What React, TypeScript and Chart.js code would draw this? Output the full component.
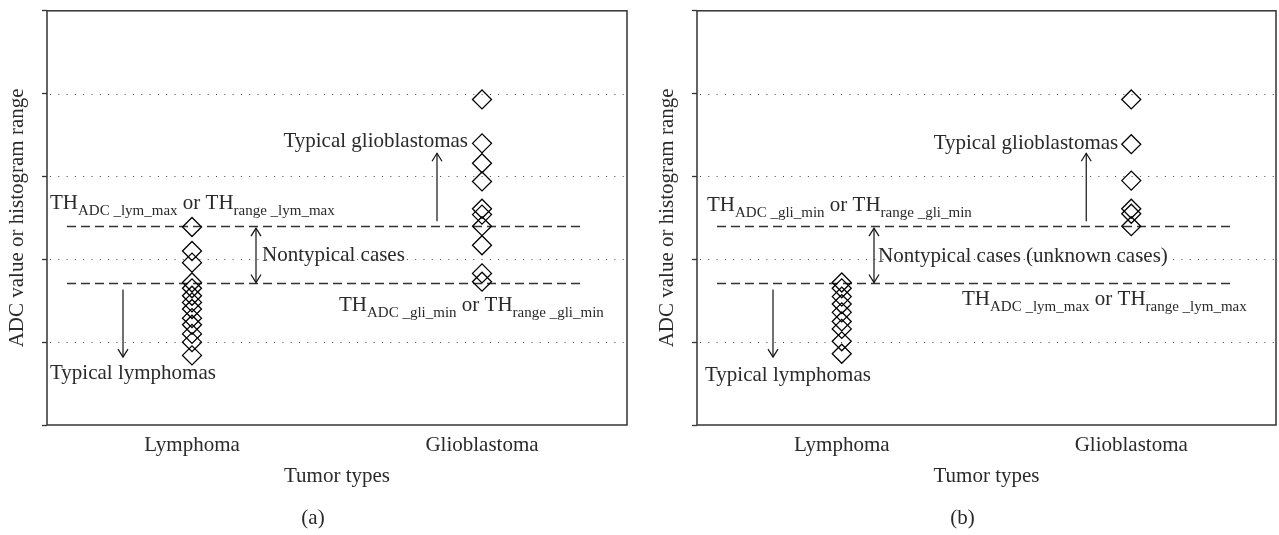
import React, { useEffect, useRef } from 'react';
import { Chart, registerables } from 'chart.js';

Chart.register(...registerables);

// ---- data -------------------------------------------------------------
const categories = ['Lymphoma', 'Glioblastoma'];
const yMin = 0;
const yMax = 5;

// panel (a): ADC value / histogram range per case
const lymphomaA = [2.39, 2.1, 1.96, 1.72, 1.65, 1.56, 1.48, 1.4, 1.29, 1.21, 1.1, 1.0, 0.84];
const glioblastomaA = [3.93, 3.4, 3.16, 2.94, 2.61, 2.54, 2.4, 2.17, 1.83, 1.73];

// panel (b)
const lymphomaB = [1.72, 1.65, 1.55, 1.46, 1.36, 1.25, 1.16, 1.01, 0.86];
const glioblastomaB = [3.93, 3.39, 2.95, 2.61, 2.55, 2.4];

// threshold levels (upper / lower dashed lines)
const thresholdUpper = 2.4;
const thresholdLower = 1.72;

// arrow end values
const upArrowFrom = 2.46;
const upArrowTo = 3.28;
const downArrowFrom = 1.635;
const downArrowTo = 0.82;

// ---- styling ----------------------------------------------------------
const FONT = "'Liberation Serif', 'Times New Roman', serif";
const TEXT = '#2a2a2a';
const MAIN_PX = 21;
const SUB_PX = 15;

type Run = { t: string; sub?: boolean };

const lymMaxRuns: Run[] = [
  { t: 'TH' },
  { t: 'ADC _lym_max', sub: true },
  { t: ' or TH' },
  { t: 'range _lym_max', sub: true },
];
const gliMinRuns: Run[] = [
  { t: 'TH' },
  { t: 'ADC _gli_min', sub: true },
  { t: ' or TH' },
  { t: 'range _gli_min', sub: true },
];

type PanelSpec = {
  lymphoma: number[];
  glioblastoma: number[];
  upperRuns: Run[];
  upperX: number;
  upperDy: number;
  lowerRuns: Run[];
  lowerX: number;
  lowerDy: number;
  glioTextDx: number;
  glioTextDy: number;
  nontypical: string;
  doubleArrowX: number;
  nontypicalDx: number;
  nontypicalY: number;
  lymTextX: number;
  lymTextDy: number;
  caption: string;
};

const panelA: PanelSpec = {
  lymphoma: lymphomaA,
  glioblastoma: glioblastomaA,
  upperRuns: lymMaxRuns,
  upperX: 3,
  upperDy: -17,
  lowerRuns: gliMinRuns,
  lowerX: 292,
  lowerDy: 28,
  glioTextDx: -14,
  glioTextDy: -6,
  nontypical: 'Nontypical cases',
  doubleArrowX: 209,
  nontypicalDx: 6,
  nontypicalY: -22,
  lymTextX: 3,
  lymTextDy: 22,
  caption: '(a)',
};

const panelB: PanelSpec = {
  lymphoma: lymphomaB,
  glioblastoma: glioblastomaB,
  upperRuns: gliMinRuns,
  upperX: 10,
  upperDy: -15,
  lowerRuns: lymMaxRuns,
  lowerX: 265,
  lowerDy: 22,
  glioTextDx: -13,
  glioTextDy: -4,
  nontypical: 'Nontypical cases (unknown cases)',
  doubleArrowX: 177,
  nontypicalDx: 4,
  nontypicalY: -21,
  lymTextX: 8,
  lymTextDy: 24,
  caption: '(b)',
};

function drawRuns(ctx: CanvasRenderingContext2D, runs: Run[], x: number, baseline: number) {
  let cx = x;
  ctx.textBaseline = 'alphabetic';
  ctx.textAlign = 'left';
  for (const r of runs) {
    ctx.font = `${r.sub ? SUB_PX : MAIN_PX}px ${FONT}`;
    ctx.fillText(r.t, cx, r.sub ? baseline + 6 : baseline);
    cx += ctx.measureText(r.t).width;
  }
}

function arrowHead(ctx: CanvasRenderingContext2D, x: number, tipY: number, dir: number) {
  // dir = -1 points up, +1 points down
  ctx.beginPath();
  ctx.moveTo(x - 5, tipY - dir * 8);
  ctx.lineTo(x, tipY);
  ctx.lineTo(x + 5, tipY - dir * 8);
  ctx.stroke();
}

function vArrow(ctx: CanvasRenderingContext2D, x: number, y1: number, y2: number, both = false) {
  ctx.beginPath();
  ctx.moveTo(x, y1);
  ctx.lineTo(x, y2);
  ctx.stroke();
  const dir = y2 > y1 ? 1 : -1;
  arrowHead(ctx, x, y2, dir);
  if (both) arrowHead(ctx, x, y1, -dir);
}

function annotationPlugin(spec: PanelSpec) {
  return {
    id: 'panelAnnotations',
    beforeDatasetsDraw(chart: any) {
      const { ctx, chartArea: a, scales } = chart;
      const y = scales.y;
      ctx.save();
      // dotted reference lines at interior ticks
      ctx.strokeStyle = '#444';
      ctx.lineWidth = 1;
      ctx.setLineDash([1, 7.3]);
      for (const t of y.ticks) {
        if (t.value <= yMin || t.value >= yMax) continue;
        const py = Math.round(y.getPixelForValue(t.value)) + 0.5;
        ctx.beginPath();
        ctx.moveTo(a.left + 3, py);
        ctx.lineTo(a.right, py);
        ctx.stroke();
      }
      // threshold lines
      ctx.strokeStyle = '#333';
      ctx.lineWidth = 1.3;
      ctx.setLineDash([9, 5]);
      for (const v of [thresholdUpper, thresholdLower]) {
        const py = Math.round(y.getPixelForValue(v)) + 0.5;
        ctx.beginPath();
        ctx.moveTo(a.left + 20, py);
        ctx.lineTo(a.right - 42, py);
        ctx.stroke();
      }
      ctx.restore();
    },
    afterDraw(chart: any) {
      const { ctx, chartArea: a, scales } = chart;
      const y = scales.y;
      const x = scales.x;
      const yUp = y.getPixelForValue(thresholdUpper);
      const yLo = y.getPixelForValue(thresholdLower);
      const glioX = x.getPixelForValue(1);
      ctx.save();
      // frame
      ctx.strokeStyle = '#333';
      ctx.lineWidth = 1.5;
      ctx.strokeRect(a.left, a.top, a.right - a.left, a.bottom - a.top);

      // arrows
      ctx.strokeStyle = '#111';
      ctx.lineWidth = 1.2;
      const upX = glioX - 45;
      const upTip = y.getPixelForValue(upArrowTo);
      vArrow(ctx, upX, y.getPixelForValue(upArrowFrom), upTip);
      const downX = a.left + 76;
      const downTip = y.getPixelForValue(downArrowTo);
      vArrow(ctx, downX, y.getPixelForValue(downArrowFrom), downTip);
      const dblX = a.left + spec.doubleArrowX;
      vArrow(ctx, dblX, yUp + 2, yLo, true);

      // texts
      ctx.fillStyle = TEXT;
      drawRuns(ctx, spec.upperRuns, a.left + spec.upperX, yUp + spec.upperDy);
      drawRuns(ctx, spec.lowerRuns, a.left + spec.lowerX, yLo + spec.lowerDy);

      ctx.font = `${MAIN_PX}px ${FONT}`;
      ctx.textBaseline = 'alphabetic';
      ctx.textAlign = 'right';
      ctx.fillText('Typical glioblastomas', glioX + spec.glioTextDx, upTip + spec.glioTextDy);
      ctx.textAlign = 'left';
      ctx.fillText(spec.nontypical, dblX + spec.nontypicalDx, yLo + spec.nontypicalY);
      ctx.fillText('Typical lymphomas', a.left + spec.lymTextX, downTip + spec.lymTextDy);

      // panel caption
      ctx.textAlign = 'center';
      ctx.textBaseline = 'middle';
      ctx.fillText(spec.caption, (a.left + a.right) / 2 - 24, 518);
      ctx.restore();
    },
  };
}

function Panel({ spec, left, width, padRight }: { spec: PanelSpec; left: number; width: number; padRight: number }) {
  const ref = useRef<HTMLCanvasElement | null>(null);

  useEffect(() => {
    if (!ref.current) return;
    const point = {
      showLine: false,
      pointStyle: 'rectRot',
      pointRadius: 9.5,
      pointHoverRadius: 9.5,
      pointBorderWidth: 1.3,
      pointBorderColor: '#000',
      pointBackgroundColor: 'rgba(0,0,0,0)',
      borderColor: '#000',
      backgroundColor: 'rgba(0,0,0,0)',
    };
    const chart = new Chart(ref.current, {
      type: 'line',
      data: {
        labels: categories,
        datasets: [
          { ...point, data: spec.lymphoma.map((v) => ({ x: categories[0], y: v })) },
          { ...point, data: spec.glioblastoma.map((v) => ({ x: categories[1], y: v })) },
        ],
      },
      options: {
        animation: false,
        responsive: false,
        events: [],
        layout: { padding: { left: 0, right: padRight, top: 6, bottom: 0 } },
        plugins: { legend: { display: false }, tooltip: { enabled: false } },
        scales: {
          x: {
            type: 'category',
            offset: true,
            grid: { display: false, drawTicks: false },
            border: { display: false },
            ticks: { color: TEXT, font: { family: FONT, size: MAIN_PX }, padding: 8 },
            title: {
              display: true,
              text: 'Tumor types',
              color: TEXT,
              font: { family: FONT, size: MAIN_PX },
              padding: { top: 0, bottom: 46 },
            },
            afterFit: (s: any) => {
              s.height = 110;
              s.paddingLeft = 0;
              s.paddingRight = 0;
            },
          },
          y: {
            min: yMin,
            max: yMax,
            ticks: { display: false, stepSize: 1 },
            grid: { display: true, drawOnChartArea: false, drawTicks: true, tickLength: 5, color: '#333', tickColor: '#333', tickWidth: 1.3 },
            border: { display: false },
            title: {
              display: true,
              text: 'ADC value or histogram range',
              color: TEXT,
              font: { family: FONT, size: MAIN_PX },
              padding: { top: 5, bottom: 0 },
            },
            afterFit: (s: any) => {
              s.width = 47;
              s.paddingTop = 0;
              s.paddingBottom = 0;
            },
          },
        },
      } as any,
      plugins: [annotationPlugin(spec)],
    });
    return () => chart.destroy();
  }, [spec, padRight]);

  return (
    <canvas
      ref={ref}
      width={width}
      height={535}
      style={{ position: 'absolute', left, top: 0, width, height: 535, display: 'block' }}
    />
  );
}

export default function App() {
  return (
    <div style={{ position: 'fixed', left: 0, top: 0, width: 1279, height: 535, background: '#fff', overflow: 'hidden' }}>
      <Panel spec={panelA} left={0} width={640} padRight={13} />
      <Panel spec={panelB} left={650} width={640} padRight={14} />
    </div>
  );
}
